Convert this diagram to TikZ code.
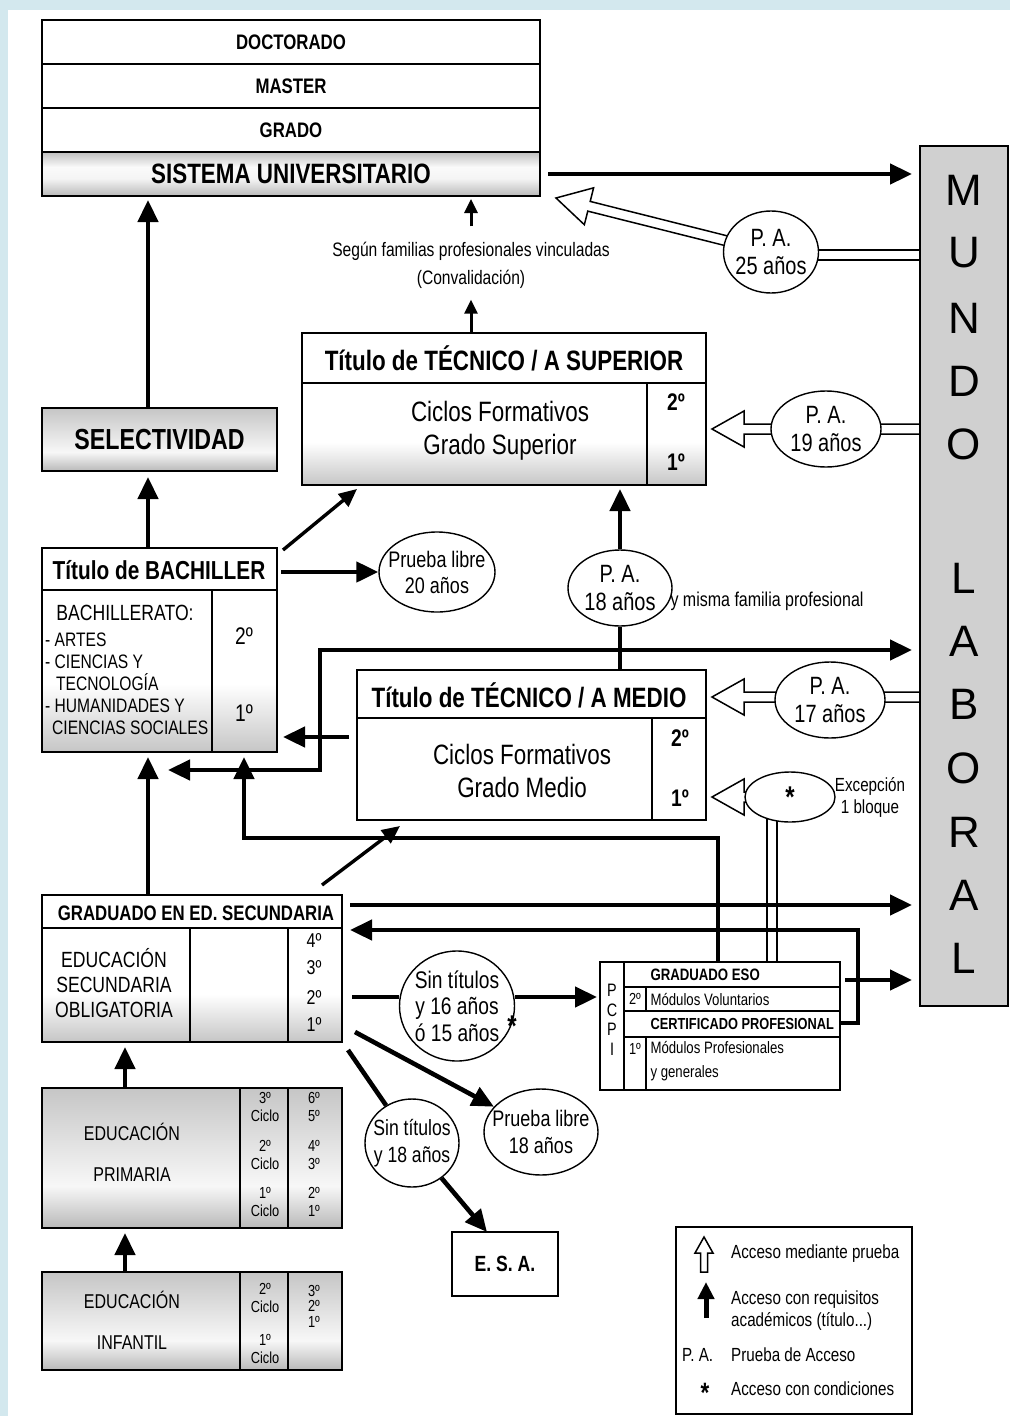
\documentclass[tikz,border=0pt]{standalone}
\usepackage{fontspec}
\setmainfont{Liberation Sans}[FakeStretch=0.8]
\newfontfamily\widefont{Liberation Sans}
\usetikzlibrary{arrows.meta,calc,shapes.geometric}

\definecolor{skyback}{RGB}{211,232,238}
\definecolor{mundogray}{RGB}{208,208,208}

\pgfdeclarelayer{back}
\pgfsetlayers{back,main}

\pgfdeclareverticalshading{bodyshade}{100bp}{color(0bp)=(gray!45); color(25bp)=(gray!45); color(46bp)=(white); color(100bp)=(white)}
\pgfdeclareverticalshading{barshade}{100bp}{color(0bp)=(gray!55); color(25bp)=(gray!55); color(40bp)=(gray!6); color(75bp)=(gray!45); color(100bp)=(gray!45)}
\pgfdeclareverticalshading{unishade}{100bp}{color(0bp)=(gray!55); color(25bp)=(gray!55); color(45bp)=(gray!8); color(58bp)=(gray!4); color(75bp)=(gray!50); color(100bp)=(gray!50)}

\newcommand{\fs}[2]{\fontsize{#1}{#2}\selectfont}

% hollow arrow: from, tip, half shaft, half head, head length
\newcommand{\hollowarrow}[5]{%
  \draw[line width=1.5pt, fill=white, line join=miter]
    ($(#1)!#3!90:(#2)$) -- ($(#2)!#5!(#1)!#3!90:(#2)$) -- ($(#2)!#5!(#1)!#4!90:(#2)$)
    -- (#2) -- ($(#2)!#5!(#1)!#4!-90:(#2)$) -- ($(#2)!#5!(#1)!#3!-90:(#2)$)
    -- ($(#1)!#3!-90:(#2)$) -- cycle;}
% hollow bar: from, to, half width
\newcommand{\hollowbar}[3]{%
  \draw[line width=1.5pt, fill=white]
    ($(#1)!#3!90:(#2)$) -- ($(#2)!#3!-90:(#1)$) -- ($(#2)!#3!90:(#1)$)
    -- ($(#1)!#3!-90:(#2)$) -- cycle;}

\begin{document}
\begin{tikzpicture}[x=1pt, y=-1pt,
    frame/.style={draw, line width=1.6pt, inner sep=0pt, outer sep=0pt},
    arr/.style={line width=4.6pt, -{Triangle[length=22pt,width=20pt]}},
    arrboth/.style={line width=4.6pt, {Triangle[length=22pt,width=20pt]}-{Triangle[length=22pt,width=20pt]}},
    arrs/.style={line width=3.4pt, -{Triangle[length=18pt,width=16pt]}},
    arrt/.style={line width=3pt, -{Triangle[length=14pt,width=13pt]}},
    lin/.style={line width=4.6pt},
    oval/.style={draw, ellipse, line width=1.4pt, fill=white, inner sep=0pt},
    ovtxt/.style={align=center, inner sep=0pt, font=\fs{25}{28}},
    legtxt/.style={anchor=west, inner sep=0pt, font=\fs{19}{22}, align=left},
  ]
  \useasboundingbox (0,0) rectangle (1010,1416);
  \begin{pgfonlayer}{back}
    \fill[skyback] (0,0) rectangle (1010,1416);
    \fill[white] (8,10) rectangle (1010,1416);
  \end{pgfonlayer}

  % helper columns and rows
  \coordinate (colA) at (148,0);
  \coordinate (colB) at (244,0);
  \coordinate (colC) at (125,0);
  \coordinate (cv) at (471,0);
  \coordinate (hbx) at (772,0);
  \coordinate (y737) at (0,737);
  \coordinate (y905) at (0,905);
  \coordinate (y980) at (0,980);
  \coordinate (y997) at (0,997);
  \coordinate (y1023) at (0,1023);

  % sistema universitario
  \node[frame, minimum width=498pt, minimum height=44pt, font=\bfseries\fs{21}{21}] (doct) at (291,42) {DOCTORADO};
  \node[frame, minimum width=498pt, minimum height=44pt, font=\bfseries\fs{21}{21}] (mast) at (291,86) {MASTER};
  \node[frame, minimum width=498pt, minimum height=44pt, font=\bfseries\fs{21}{21}] (grad) at (291,130) {GRADO};
  \node[frame, minimum width=498pt, minimum height=44pt, shading=unishade, font=\bfseries\fs{28}{28}] (sist) at (291,174) {SISTEMA UNIVERSITARIO};

  % mundo laboral
  \node[frame, fill=mundogray, minimum width=88pt, minimum height=860pt, anchor=north west] (mundo) at (920,146) {};
  \foreach \ly/\lc in {190/M,253/U,318/N,381/D,444/O,578/L,641/A,704/B,768/O,832/R,895/A,958/L}
    \node[font=\widefont\fs{44}{44}] (ml\ly) at (964,\ly) {\lc};

  % selectividad
  \node[frame, minimum width=235pt, minimum height=63pt, shading=barshade, font=\bfseries\fs{29}{29}] (selec) at (159.5,439.5) {SELECTIVIDAD};

  % tecnico superior
  \shade[shading=bodyshade] (302,383) rectangle (706,485);
  \node[frame, minimum width=404pt, minimum height=152pt, anchor=north west] (sup) at (302,333) {};
  \draw[line width=1.6pt] (302,383) -- (706,383) (647,383) -- (647,485);
  \node[font=\bfseries\fs{28}{28}] (suptit) at (504,358) {Título de TÉCNICO / A SUPERIOR};
  \node[align=center, font=\fs{28}{33}] (supcf) at (500,431) {Ciclos Formativos\\Grado Superior};
  \node[font=\bfseries\fs{24}{24}] (sup2) at (676,402) {2º};
  \node[font=\bfseries\fs{24}{24}] (sup1) at (676,462) {1º};

  \node[font=\fs{19.5}{19.5}] (seg) at (471,251) {Según familias profesionales vinculadas};
  \node[font=\fs{19.5}{19.5}] (conv) at (471,279) {(Convalidación)};

  % bachiller
  \shade[shading=bodyshade] (42,590) rectangle (277,752);
  \node[frame, minimum width=235pt, minimum height=204pt, anchor=north west] (bach) at (42,548) {};
  \draw[line width=1.6pt] (42,590) -- (277,590) (212,590) -- (212,752);
  \node[font=\bfseries\fs{26}{26}] (bachtit) at (159,570) {Título de BACHILLER};
  \node[font=\fs{22}{22}] (bachlist) at (125,613) {BACHILLERATO:};
  \node[anchor=north west, align=left, inner sep=0pt, font=\fs{19.5}{22}] (bachram) at (45,633)
    {- ARTES\\- CIENCIAS Y\\\hspace*{11pt}TECNOLOGÍA\\- HUMANIDADES Y\\\hspace*{7pt}CIENCIAS SOCIALES};
  \node[font=\fs{24}{24}] (bach2) at (244,636) {2º};
  \node[font=\fs{24}{24}] (bach1) at (244,713) {1º};

  % tecnico medio
  \node[frame, minimum width=349pt, minimum height=150pt, anchor=north west] (medio) at (357,670) {};
  \draw[line width=1.6pt] (357,718) -- (706,718) (652,718) -- (652,820);
  \node[font=\bfseries\fs{28}{28}] (medtit) at (529,695) {Título de TÉCNICO / A MEDIO};
  \node[align=center, font=\fs{28}{33}] (medcf) at (522,771) {Ciclos Formativos\\Grado Medio};
  \node[font=\bfseries\fs{24}{24}] (med2) at (680,738) {2º};
  \node[font=\bfseries\fs{24}{24}] (med1) at (680,798) {1º};

  % graduado en ed. secundaria
  \shade[shading=bodyshade] (42,928) rectangle (342,1042);
  \node[frame, minimum width=300pt, minimum height=147pt, anchor=north west] (eso) at (42,895) {};
  \draw[line width=1.6pt] (42,928) -- (342,928) (190,928) -- (190,1042) (288,928) -- (288,1042);
  \node[font=\bfseries\fs{21}{21}] (esotit) at (196,913) {GRADUADO EN ED. SECUNDARIA};
  \node[align=center, font=\fs{22}{25}] (esotxt) at (114,983) {EDUCACIÓN\\SECUNDARIA\\OBLIGATORIA};
  \foreach \cy/\cn in {940/4,968/3,997/2,1024/1}
    \node[font=\fs{20}{20}] (eso\cn) at (314,\cy) {\cn º};

  % pcpi
  \node[frame, line width=1.3pt, minimum width=240pt, minimum height=128pt, anchor=north west] (pcpi) at (600,962) {};
  \draw[line width=1.2pt] (624,962) -- (624,1090)
    (624,987) -- (840,987) (624,1011) -- (840,1011) (624,1037) -- (840,1037)
    (646,987) -- (646,1011) (646,1037) -- (646,1090);
  \node[align=center, font=\fs{18}{19.5}] (pcpil) at (612,1020) {P\\C\\P\\I};
  \node[font=\fs{16}{16}] (pc2) at (635,999) {2º};
  \node[font=\fs{16}{16}] (pc1) at (635,1049) {1º};
  \node[anchor=west, font=\bfseries\fs{16.5}{16.5}] (geso) at (647,975) {GRADUADO ESO};
  \node[anchor=west, font=\fs{16.5}{16.5}] (modv) at (647,999) {Módulos Voluntarios};
  \node[anchor=west, font=\bfseries\fs{16}{16}] (cert) at (647,1024) {CERTIFICADO PROFESIONAL};
  \node[anchor=west, align=left, font=\fs{16.5}{24}] (modp) at (647,1061) {Módulos Profesionales\\y generales};

  % primaria
  \shade[shading=barshade] (42,1088) rectangle (342,1228);
  \node[frame, minimum width=300pt, minimum height=140pt, anchor=north west] (prim) at (42,1088) {};
  \draw[line width=1.6pt] (240,1088) -- (240,1228) (288,1088) -- (288,1228);
  \node[font=\fs{20}{20}] (primed) at (132,1132) {EDUCACIÓN};
  \node[font=\fs{20}{20}] (primpr) at (132,1175) {PRIMARIA};
  \foreach \cy/\ca/\cb/\cc/\cd in {1107/3/6/5/t,1155/2/4/3/s,1202/1/2/1/p}{
    \node[align=center, font=\fs{16}{18}] (ciclo\cd) at (265,\cy) {\ca º\\Ciclo};
    \node[align=center, font=\fs{16}{18}] (curso\cd) at (314,\cy) {\cb º\\\cc º};
  }

  % infantil
  \shade[shading=barshade] (42,1272) rectangle (342,1370);
  \node[frame, minimum width=300pt, minimum height=98pt, anchor=north west] (inf) at (42,1272) {};
  \draw[line width=1.6pt] (240,1272) -- (240,1370) (288,1272) -- (288,1370);
  \node[font=\fs{20}{20}] (infed) at (132,1300) {EDUCACIÓN};
  \node[font=\fs{20}{20}] (infin) at (132,1343) {INFANTIL};
  \node[align=center, font=\fs{16}{18}] (infc2) at (265,1298) {2º\\Ciclo};
  \node[align=center, font=\fs{16}{18}] (infc1) at (265,1349) {1º\\Ciclo};
  \node[align=center, font=\fs{16}{15.5}] (infcur) at (314,1306) {3º\\2º\\1º};

  % e.s.a.
  \node[frame, minimum width=106pt, minimum height=64pt, font=\bfseries\fs{22}{22}] (esa) at (505,1264) {E. S. A.};

  % ovals
  \node[oval, minimum width=95pt, minimum height=82pt] (pa25) at (771,252) {};
  \node[ovtxt] (pa25t) at (pa25) {P. A.\\25 años};
  \node[oval, minimum width=110pt, minimum height=76pt] (pa19) at (826,429) {};
  \node[ovtxt] (pa19t) at (pa19) {P. A.\\19 años};
  \node[oval, minimum width=104pt, minimum height=76pt] (pa18) at (620,588) {};
  \node[ovtxt] (pa18t) at (pa18) {P. A.\\18 años};
  \node[oval, minimum width=110pt, minimum height=76pt] (pa17) at (830,700) {};
  \node[ovtxt] (pa17t) at (pa17) {P. A.\\17 años};
  \node[oval, minimum width=90pt, minimum height=50pt] (astov) at (790,797) {};
  \node[font=\bfseries\fs{30}{30}] (astovt) at (astov) {\raisebox{-.32em}{*}};
  \node[oval, minimum width=116pt, minimum height=80pt] (pl20) at (437,572) {};
  \node[ovtxt, font=\fs{22.5}{26}] (pl20t) at (pl20) {Prueba libre\\20 años};
  \node[oval, minimum width=115pt, minimum height=110pt] (sin16) at (457,1006) {};
  \node[ovtxt, font=\fs{24}{26.5}] (sin16t) at (sin16) {Sin títulos\\y 16 años\\ó 15 años};
  \node[font=\bfseries\fs{30}{30}] (ast16) at (512,1026) {*};
  \node[oval, minimum width=94pt, minimum height=88pt] (sin18) at (412,1143) {};
  \node[ovtxt, font=\fs{22}{27}] (sin18t) at (sin18) {Sin títulos\\y 18 años};
  \node[oval, minimum width=114pt, minimum height=86pt] (pl18) at (541,1132) {};
  \node[ovtxt, font=\fs{22.5}{27}] (pl18t) at (pl18) {Prueba libre\\18 años};

  \node[align=center, font=\fs{19}{22}] (excep) at (870,797) {Excepción\\1 bloque};
  \node[anchor=west, font=\fs{20}{20}] (misma) at (667,601) {y misma familia profesional};

  % hollow arrows (access by test)
  \coordinate (h25) at (mundo.west |- 0,255);
  \coordinate (t25) at ($(sist.south east)+(16,2)$);
  \coordinate (h19) at (mundo.west |- pa19);
  \coordinate (t19) at (712,429);
  \coordinate (h17) at (mundo.west |- 0,697);
  \coordinate (t17) at (712,697);
  \coordinate (hsb) at (pcpi.north -| hbx);
  \coordinate (hst) at (hbx |- astov);
  \coordinate (tst) at (712,797);
  \begin{pgfonlayer}{back}
    \hollowbar{h25}{pa25 |- h25}{5pt}
    \hollowarrow{pa25}{t25}{5pt}{19pt}{34pt}
    \hollowarrow{h19}{t19}{5pt}{18pt}{32pt}
    \hollowarrow{h17}{t17}{5pt}{18pt}{32pt}
    \hollowbar{hsb}{hst}{5pt}
    \hollowarrow{astov}{tst}{5pt}{18pt}{32pt}
  \end{pgfonlayer}

  % connectors
  \draw[arr, shorten <=8pt, shorten >=8pt] (sist.east) -- (sist.east -| mundo.west);
  \draw[arrt] ($(cv |- seg.north)+(0,-12)$) -- ($(cv |- sist.south)+(0,3)$);
  \draw[arrt] (cv |- sup.north) -- ($(cv |- conv.south)+(0,8)$);
  \draw[arr, shorten >=4pt] (colA |- selec.north) -- (colA |- sist.south);
  \draw[arr, shorten >=6pt] (colA |- bach.north) -- (colA |- selec.south);
  \draw[arrs] ($(bach.north east)+(6,2)$) -- ($(sup.south west)+(55,4)$);
  \draw[arr, shorten <=4pt] (bach.east |- pl20) -- (pl20.west);
  \draw[arr, shorten >=4pt] (pa18.north) -- (pa18 |- sup.south);
  \draw[lin] (medio.north -| pa18) -- (pa18.south);
  \coordinate (jA) at (320,650);
  \coordinate (jB) at (320,770);
  \draw[arrboth, shorten <=20pt, shorten >=8pt] (colA |- jB) -- (jB) -- (jA) -- (mundo.west |- jA);
  \draw[arr, shorten <=8pt, shorten >=6pt] (medio.west |- y737) -- (bach.east |- y737);
  \draw[arr, shorten >=5pt] (colA |- eso.north) -- (colA |- bach.south);
  \coordinate (jC) at (718,838);
  \draw[arr, shorten >=5pt] (pcpi.north -| jC) -- (jC) -- (colB |- jC) -- (colB |- bach.south);
  \draw[arrs] ($(eso.north east)+(-20,-10)$) -- ($(medio.south west)+(43,6)$);
  \draw[arr, shorten <=8pt, shorten >=8pt] (eso.east |- y905) -- (mundo.west |- y905);
  \coordinate (jD) at (858,930);
  \draw[arr, shorten >=8pt] (pcpi.east |- y1023) -- (jD |- y1023) -- (jD) -- (eso.east |- jD);
  \draw[arr, shorten <=5pt, shorten >=8pt] (pcpi.east |- y980) -- (mundo.west |- y980);
  \draw[lin, shorten <=10pt] (eso.east |- y997) -- (sin16.west |- y997);
  \draw[arr, shorten >=3pt] (sin16.east |- y997) -- (pcpi.west |- y997);
  \draw[arr] ($(eso.south east)+(13,-10)$) -- (pl18);
  \draw[lin] ($(eso.south east)+(6,8)$) -- (sin18);
  \draw[arr] (sin18) -- ($(esa.north west)+(35,0)$);
  \draw[arr, shorten >=5pt] (colC |- prim.north) -- (colC |- eso.south);
  \draw[arr, shorten >=5pt] (colC |- inf.north) -- (colC |- prim.south);

  % legend
  \node[frame, line width=1.3pt, minimum width=236pt, minimum height=187pt, anchor=north west] (leg) at (676,1227) {};
  \coordinate (legA1) at (704,1272);
  \coordinate (legA2) at (704,1237);
  \hollowarrow{legA1}{legA2}{3.5pt}{9pt}{16pt}
  \coordinate (legB1) at (706,1318);
  \coordinate (legB2) at (706,1282);
  \draw[line width=5pt, -{Triangle[length=17pt,width=16pt]}] (legB1) -- (legB2);
  \node[legtxt] (legt1) at (731,1254) {Acceso mediante prueba};
  \node[legtxt] (legt2) at (731,1311) {Acceso con requisitos\\académicos (título...)};
  \node[legtxt] (legt3) at (682,1355) {P. A.};
  \node[legtxt] (legt4) at (731,1355) {Prueba de Acceso};
  \node[font=\bfseries\fs{28}{28}] (legt5) at (705,1393) {\raisebox{-.32em}{*}};
  \node[legtxt] (legt6) at (731,1389) {Acceso con condiciones};
\end{tikzpicture}
\end{document}
